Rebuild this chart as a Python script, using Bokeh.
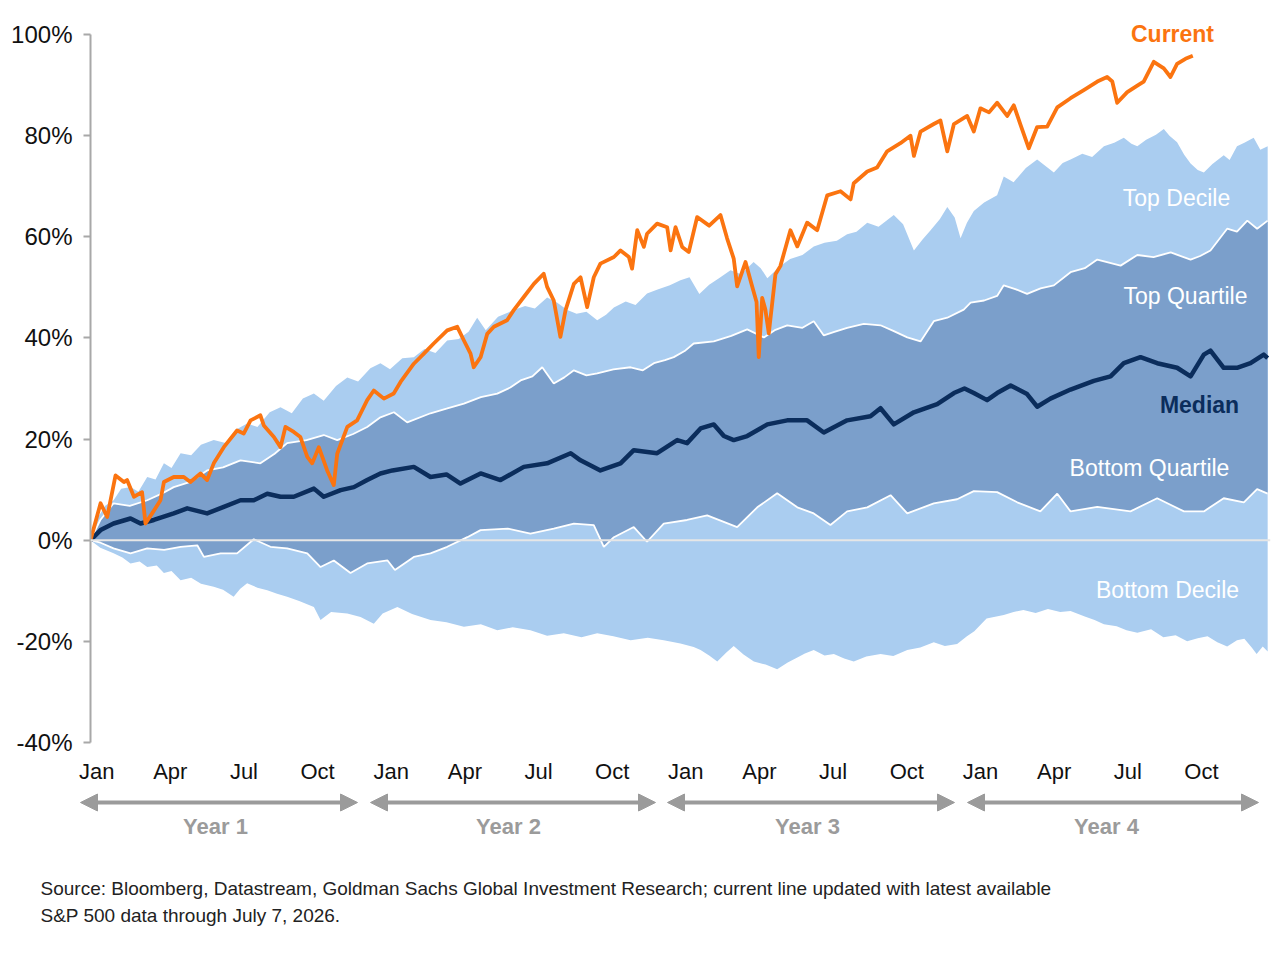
from bokeh.plotting import figure
from bokeh.models import Range1d, FixedTicker, Span, Arrow, NormalHead, Label
from bokeh.embed import file_html
from bokeh.resources import INLINE
from bokeh.core.properties import value

# ---------------- data (x in months since start of Year 1, y in % return) ----------------
current_m = [0, 0.41, 0.68, 1.02, 1.36, 1.49, 1.77, 2.1, 2.24, 2.51, 2.85, 2.99, 3.39, 3.8, 4.07, 4.48, 4.75,
             5.02, 5.43, 5.97, 6.24, 6.52, 6.92, 7.06, 7.47, 7.74, 7.94, 8.28, 8.55, 8.83, 9.03, 9.3, 9.64,
             9.91, 10.05, 10.46, 10.86, 11.27, 11.54, 11.95, 12.35, 12.63, 13.17, 13.58, 13.98, 14.53, 14.94,
             15.21, 15.48, 15.61, 15.89, 16.16, 16.43, 16.97, 17.24, 17.65, 18.06, 18.46, 18.6, 18.87, 19.14,
             19.35, 19.69, 19.96, 20.23, 20.5, 20.77, 21.32, 21.59, 21.93, 22.06, 22.27, 22.54, 22.67, 23.08,
             23.49, 23.63, 23.83, 24.1, 24.37, 24.71, 25.2, 25.66, 25.93, 26.2, 26.34, 26.68, 26.95, 27.13,
             27.22, 27.36, 27.49, 27.63, 27.9, 28.1, 28.51, 28.79, 29.19, 29.6, 30.01, 30.55, 30.96, 31.09,
             31.64, 32.04, 32.45, 32.99, 33.4, 33.54, 33.81, 34.35, 34.62, 34.9, 35.17, 35.71, 35.98, 36.25,
             36.6, 36.93, 37.34, 37.61, 37.88, 38.22, 38.56, 38.97, 39.38, 39.92, 40.46, 41.01, 41.41, 41.62,
             41.82, 42.23, 42.64, 42.9, 43.31, 43.72, 43.99, 44.26, 44.6, 44.9]
current_v = [0, 7.3, 4.6, 12.8, 11.5, 11.9, 8.6, 9.5, 3.3, 5.3, 7.9, 11.5, 12.5, 12.5, 11.5, 13.2, 11.9,
             15.2, 18.4, 21.7, 21.1, 23.7, 24.7, 22.7, 20.4, 18.4, 22.4, 21.4, 20.4, 16.5, 15.2, 18.4, 13.8,
             10.9, 17.1, 22.4, 23.7, 27.7, 29.6, 28.0, 29.0, 31.3, 34.9, 36.9, 38.9, 41.5, 42.2,
             39.5, 36.9, 34.2, 36.2, 40.8, 42.2, 43.5, 45.5, 48.1, 50.7, 52.7, 50.1, 47.4, 40.2,
             45.5, 50.7, 52.0, 46.1, 52.0, 54.7, 56.0, 57.3, 56.0, 53.7, 61.3, 58.0, 60.6, 62.6,
             61.9, 57.3, 61.9, 58.0, 57.0, 63.9, 62.2, 64.3, 59.7, 55.7, 50.2, 55.0, 50.2, 47.1,
             36.2, 47.9, 45.6, 40.9, 52.6, 54.2, 61.3, 58.1, 62.8, 61.3, 68.2, 69.0, 67.4, 70.6,
             72.9, 73.7, 76.9, 78.5, 80.0, 76.0, 80.8, 82.3, 83.0, 76.9, 82.3, 83.9, 80.8, 85.4,
             84.6, 86.5, 83.9, 86.0, 82.2, 77.5, 81.7, 81.8, 85.6, 87.4, 89.0, 90.7, 91.6, 90.7,
             86.5, 88.6, 89.9, 90.7, 94.6, 93.3, 91.6, 94.2, 95.2, 95.8]

top_decile_m = [0, 0.3, 0.6, 0.94, 1.25, 1.63, 1.95, 2.31, 2.65, 2.99, 3.3, 3.67, 4.1, 4.5, 5.02, 5.5, 5.9,
                6.38, 6.8, 7.3, 7.74, 8.2, 8.65, 9.1, 9.5, 10.0, 10.46, 10.9, 11.4, 11.81, 12.2, 12.7, 13.17,
                13.6, 14.05, 14.53, 15.0, 15.4, 15.75, 16.1, 16.6, 17.24, 17.7, 18.1, 18.6, 19.0, 19.42, 19.8,
                20.2, 20.64, 21.0, 21.32, 21.8, 22.2, 22.67, 23.1, 23.6, 24.03, 24.4, 24.8, 25.2, 25.6, 26.07,
                26.5, 27.01, 27.3, 27.57, 28.1, 28.5, 29.0, 29.46, 29.9, 30.4, 30.82, 31.2, 31.64, 32.1, 32.72,
                33.1, 33.54, 33.9, 34.22, 34.6, 34.9, 35.2, 35.44, 35.7, 35.98, 36.4, 36.93, 37.2, 37.6, 38.1,
                38.56, 38.9, 39.24, 39.6, 39.92, 40.4, 40.8, 41.28, 41.7, 42.09, 42.4, 42.64, 43.0, 43.4, 43.72,
                43.95, 44.26, 44.55, 44.81, 45.1, 45.35, 45.7, 46.16, 46.4, 46.7, 47.0, 47.38, 47.65, 47.95]
top_decile_v = [0, 4.5, 6.8, 7.9, 10.2, 10.5, 9.6, 12.5, 12.0, 15.2, 14.3, 17.2, 16.8, 18.9, 19.8, 19.2, 21.8,
                23.1, 22.4, 25.3, 26.3, 25.1, 28.0, 29.0, 27.6, 30.5, 32.2, 31.4, 34.0, 35.0, 33.8, 36.0, 36.2,
                37.8, 37.0, 39.5, 39.8, 41.2, 44.0, 41.5, 44.2, 45.5, 46.3, 45.8, 48.0, 47.0, 45.5, 44.8,
                45.2, 43.5, 44.6, 46.0, 47.2, 46.5, 48.8, 49.6, 50.4, 51.4, 52.0, 48.7, 50.5, 51.8, 53.4,
                52.6, 55.0, 53.8, 51.8, 54.2, 55.6, 56.4, 58.1, 58.8, 59.2, 60.5, 61.0, 62.8, 62.0, 64.3,
                62.5, 57.3, 59.5, 61.3, 63.5, 65.9, 63.8, 59.7, 62.8, 65.1, 66.8, 68.2, 71.9, 70.8, 73.6,
                75.3, 74.0, 72.7, 74.6, 75.3, 76.4, 75.8, 77.9, 78.6, 79.6, 78.4, 77.9, 79.2, 80.2, 81.3,
                80.0, 78.7, 76.2, 74.5, 73.2, 72.7, 74.4, 76.1, 75.2, 77.9, 78.6, 79.6, 77.2, 77.9]

top_quartile_m = [0, 0.4, 0.94, 1.6, 2.31, 2.9, 3.39, 4.1, 4.75, 5.4, 6.11, 6.92, 7.5, 8.01, 8.8, 9.5, 10.05,
                  10.7, 11.27, 11.81, 12.36, 12.9, 13.85, 14.5, 15.21, 15.9, 16.57, 17.1, 17.52, 18.0, 18.4,
                  18.87, 19.3, 19.69, 20.2, 20.64, 21.3, 22.0, 22.5, 22.95, 23.4, 23.76, 24.2, 24.57, 25.39,
                  26.1, 26.75, 27.43, 27.9, 28.38, 29.0, 29.46, 29.87, 30.3, 30.82, 31.5, 32.18, 32.7, 33.27,
                  33.81, 34.35, 34.9, 35.57, 35.85, 36.4, 36.93, 37.2, 37.7, 38.15, 38.7, 39.24, 39.92, 40.5,
                  41.01, 41.96, 42.64, 43.3, 44.0, 44.81, 45.2, 45.62, 46.3, 46.7, 47.12, 47.52, 47.95]
top_quartile_v = [0, 4.0, 7.3, 6.8, 7.9, 9.2, 10.5, 11.6, 13.8, 14.4, 15.8, 15.2, 17.1, 19.2, 19.8, 20.8, 19.8,
                  21.0, 22.4, 24.3, 25.3, 23.3, 25.1, 26.0, 27.0, 28.3, 29.0, 30.2, 31.6, 32.4, 34.2,
                  31.0, 32.2, 33.6, 32.6, 33.0, 33.8, 34.2, 33.6, 35.0, 35.6, 36.2, 37.4, 38.9, 39.3,
                  40.4, 41.7, 40.1, 41.6, 42.5, 42.0, 43.3, 40.5, 41.2, 42.0, 42.8, 42.5, 41.4, 40.1,
                  39.3, 43.3, 44.0, 45.6, 47.0, 47.4, 48.3, 50.4, 49.6, 48.7, 49.8, 50.4, 53.0, 53.8,
                  55.5, 54.3, 56.4, 56.0, 56.9, 55.5, 56.2, 57.3, 61.6, 61.0, 63.2, 61.6, 63.2]

median_m = [0, 0.41, 0.94, 1.63, 2.04, 2.58, 3.39, 3.94, 4.75, 5.43, 6.11, 6.65, 7.2, 7.74, 8.28, 9.1, 9.5,
            10.19, 10.73, 11.27, 11.81, 12.3, 13.17, 13.85, 14.5, 15.07, 15.89, 16.7, 17.65, 18.6, 19.56,
            19.96, 20.77, 21.59, 22.13, 23.08, 23.9, 24.3, 24.85, 25.39, 25.8, 26.2, 26.75, 27.57, 28.38,
            29.19, 29.87, 30.82, 31.77, 32.18, 32.72, 33.54, 34.49, 35.17, 35.6, 35.98, 36.52, 36.93, 37.48,
            38.15, 38.56, 39.1, 39.92, 40.87, 41.55, 42.09, 42.77, 43.45, 44.26, 44.81, 45.35, 45.62, 46.16,
            46.7, 47.25, 47.79, 47.95]
median_v = [0, 2.0, 3.3, 4.3, 3.3, 4.0, 5.3, 6.3, 5.3, 6.6, 7.9, 7.9, 9.2, 8.6, 8.6, 10.2, 8.6,
            9.9, 10.5, 11.9, 13.2, 13.8, 14.5, 12.5, 13.0, 11.2, 13.2, 11.9, 14.5, 15.2, 17.2,
            15.8, 13.8, 15.2, 17.8, 17.2, 19.8, 19.2, 22.1, 22.9, 20.6, 19.8, 20.6, 22.9, 23.7,
            23.7, 21.3, 23.7, 24.5, 26.1, 22.9, 25.3, 26.9, 29.1, 30.0, 29.1, 27.7, 29.1, 30.6,
            28.9, 26.4, 28.0, 29.8, 31.5, 32.4, 35.0, 36.2, 35.0, 34.1, 32.4, 36.7, 37.5, 34.1,
            34.1, 35.0, 36.7, 36.0]

bottom_quartile_m = [0, 0.41, 0.94, 1.63, 2.31, 3.0, 3.67, 4.35, 4.62, 5.3, 5.97, 6.65, 7.33, 8.01, 8.83, 9.37,
                     9.91, 10.59, 11.27, 12.1, 12.4, 13.17, 13.85, 14.53, 15.35, 15.89, 17.0, 17.92, 18.87,
                     19.69, 20.5, 20.91, 21.32, 22.13, 22.67, 23.35, 24.3, 25.12, 26.34, 27.16, 27.97, 28.79,
                     29.46, 30.14, 30.82, 31.64, 32.59, 33.27, 34.35, 35.3, 35.98, 36.93, 37.75, 38.69, 39.38,
                     39.92, 41.01, 42.36, 43.45, 44.54, 45.35, 46.16, 46.98, 47.52, 47.95]
bottom_quartile_v = [0, -0.5, -1.6, -2.6, -1.6, -1.9, -1.3, -1.0, -3.3, -2.6, -2.6, 0.2, -1.3, -1.6, -2.6, -5.3,
                     -4.0, -6.5, -4.6, -4.0, -5.9, -3.3, -2.6, -1.3, 0.6, 2.0, 2.3, 1.3, 2.3,
                     3.3, 3.0, -1.3, 0.6, 2.6, -0.3, 3.3, 4.0, 4.9, 2.6, 6.5, 9.3, 6.5,
                     5.3, 3.0, 5.7, 6.5, 8.9, 5.3, 7.3, 8.1, 9.7, 9.5, 7.5, 5.7, 9.2,
                     5.7, 6.6, 5.7, 8.3, 5.7, 5.7, 8.3, 7.5, 10.1, 9.2]

bottom_decile_m = [0, 0.4, 0.94, 1.3, 1.63, 2.0, 2.31, 2.7, 2.99, 3.3, 3.67, 4.1, 4.5, 5.02, 5.4, 5.83, 6.1,
                   6.38, 6.8, 7.2, 7.6, 8.01, 8.5, 9.1, 9.37, 9.8, 10.46, 11.0, 11.54, 11.9, 12.5, 13.1, 13.85,
                   14.5, 15.21, 15.9, 16.57, 17.2, 17.92, 18.6, 19.28, 20.0, 20.64, 21.3, 22.0, 22.7, 23.35,
                   24.03, 24.57, 24.85, 25.2, 25.53, 25.9, 26.2, 26.6, 27.02, 27.5, 27.97, 28.4, 28.79, 29.1,
                   29.46, 29.9, 30.28, 30.7, 31.09, 31.6, 32.18, 32.7, 33.27, 33.8, 34.35, 34.8, 35.3, 35.7,
                   36.0, 36.5, 37.2, 37.6, 38.0, 38.5, 39.0, 39.5, 39.92, 40.5, 40.9, 41.28, 41.8, 42.2, 42.64,
                   43.2, 43.7, 44.2, 44.67, 45.1, 45.5, 45.9, 46.3, 46.7, 47.0, 47.3, 47.5, 47.75, 47.95]
bottom_decile_v = [0, -1.5, -2.6, -3.4, -4.6, -4.2, -5.3, -5.0, -6.5, -6.1, -7.9, -7.4, -8.6, -9.2, -9.8, -11.2, -9.6,
                   -8.5, -9.4, -9.9, -10.6, -11.2, -12.0, -13.2, -15.8, -14.2, -14.5, -15.2, -16.5, -14.5, -13.2, -14.6, -15.8,
                   -16.2, -17.1, -16.6, -17.8, -17.2, -17.8, -18.9, -18.4, -19.2, -18.4, -19.0, -19.8, -19.3, -19.8,
                   -20.4, -21.1, -21.7, -22.8, -24.0, -22.2, -20.9, -22.6, -24.0, -24.6, -25.5, -24.2, -23.2, -22.4,
                   -21.7, -22.8, -22.5, -23.4, -24.0, -23.0, -22.5, -22.9, -21.7, -21.2, -20.2, -20.9, -20.5, -19.0,
                   -18.0, -15.5, -14.8, -14.2, -13.8, -14.4, -13.6, -14.2, -14.0, -15.1, -15.8, -16.6, -17.0, -17.8, -18.3,
                   -17.6, -19.2, -18.8, -20.0, -19.4, -19.0, -20.2, -21.0, -19.8, -19.5, -21.2, -22.5, -21.0, -22.0]

y_ticks = [-40, -20, 0, 20, 40, 60, 80, 100]
month_labels = ["Jan", "Apr", "Jul", "Oct"] * 4
year_labels = ["Year 1", "Year 2", "Year 3", "Year 4"]
source_lines = ["Source: Bloomberg, Datastream, Goldman Sachs Global Investment Research; current line updated with latest available",
                "S&P 500 data through July 7, 2026."]

# ---------------- layout constants (page pixels) ----------------
FONT = "Liberation Sans"
W = 1272
PX_MONTH = 24.55          # pixels per month
PX_PCT = 5.055            # pixels per percentage point
AXIS_PX = 90              # page x of the y axis (x = 0)
ZERO_PY = 539.5           # page y of 0 %
TOP_PY = 14               # page y of frame top
FRAME_RIGHT_PX = 1270
MAIN_H = 790              # height of the main figure
NOTE_H = 150              # height of the bottom strip

def mx(px):
    return (px - AXIS_PX) / PX_MONTH

def vy(py):
    return (ZERO_PY - py) / PX_PCT

LIGHT = "#aacdf0"
MID = "#7b9fcb"
NAVY = "#0b2d5c"
ORANGE = "#fb7410"
GREY = "#9b9b9b"

y_lo = min(y_ticks)
frame_bottom_px = ZERO_PY - y_lo * PX_PCT

p = figure(width=W, height=MAIN_H, output_backend="svg", toolbar_location=None,
           x_range=Range1d(0, mx(FRAME_RIGHT_PX)),
           y_range=Range1d(y_lo, vy(TOP_PY)),
           min_border_left=AXIS_PX, min_border_right=W - FRAME_RIGHT_PX,
           min_border_top=TOP_PY, min_border_bottom=int(round(MAIN_H - frame_bottom_px)))
p.outline_line_color = None
p.grid.visible = False
p.background_fill_color = "white"

# y axis
ya = p.yaxis[0]
ya.ticker = FixedTicker(ticks=y_ticks)
ya.bounds = (min(y_ticks), max(y_ticks))
ya.major_label_overrides = {t: f"{t}%" for t in y_ticks}
ya.axis_line_color = "#a8a8a8"
ya.axis_line_width = 2
ya.major_tick_line_color = "#a8a8a8"
ya.major_tick_line_width = 2
ya.major_tick_out = 7
ya.major_tick_in = 0
ya.minor_tick_line_color = None
ya.major_label_standoff = 11
ya.major_label_text_font = FONT
ya.major_label_text_font_size = "24px"
ya.major_label_text_color = "#111111"

# x axis: month labels only
month_pos = [3 * i + 0.25 for i in range(len(month_labels))]
xa = p.xaxis[0]
xa.ticker = FixedTicker(ticks=month_pos)
xa.major_label_overrides = {t: lab for t, lab in zip(month_pos, month_labels)}
xa.axis_line_color = None
xa.major_tick_line_color = None
xa.minor_tick_line_color = None
xa.major_label_standoff = 10
xa.major_label_text_font = FONT
xa.major_label_text_font_size = "22px"
xa.major_label_text_color = "#111111"

# bands
p.patch(top_decile_m + bottom_decile_m[::-1], top_decile_v + bottom_decile_v[::-1],
        fill_color=LIGHT, line_color=None)
p.patch(top_quartile_m + bottom_quartile_m[::-1], top_quartile_v + bottom_quartile_v[::-1],
        fill_color=MID, line_color=None)
p.line(top_quartile_m, top_quartile_v, line_color="white", line_width=1.8)
p.line(bottom_quartile_m, bottom_quartile_v, line_color="white", line_width=1.8)

p.add_layout(Span(location=0, dimension="width", line_color="#e6e6e6", line_width=2))

p.line(median_m, median_v, line_color=NAVY, line_width=4.5, line_join="round")
p.line(current_m, current_v, line_color=ORANGE, line_width=3.8, line_join="round")

# series labels
def series_label(txt, cx, cy, color, bold=False):
    p.add_layout(Label(x=mx(cx), y=vy(cy), text=txt, text_align="center", text_baseline="middle",
                       text_font=FONT, text_font_size="23px", text_color=color,
                       text_font_style="bold" if bold else "normal"))

series_label("Current", 1172, 33, ORANGE, True)
series_label("Top Decile", 1176, 197, "white")
series_label("Top Quartile", 1185, 295, "white")
series_label("Median", 1199, 404, NAVY, True)
series_label("Bottom Quartile", 1149, 467, "white")
series_label("Bottom Decile", 1167, 589, "white")

# ---------------- bottom strip: year arrows, year labels, source note ----------------
q = figure(width=W, height=NOTE_H, output_backend="svg", toolbar_location=None,
           x_range=Range1d(0, W), y_range=Range1d(MAIN_H + NOTE_H, MAIN_H),
           x_axis_location=None, y_axis_location=None, min_border=0)
q.outline_line_color = None
q.grid.visible = False

arrow_start_px = [80, 370, 667, 967]
arrow_end_px = [357, 655, 954, 1258]
year_center_px = [215, 508, 807, 1106]
for s, e in zip(arrow_start_px, arrow_end_px):
    q.add_layout(Arrow(x_start=s, y_start=802, x_end=e, y_end=802,
                       line_color=GREY, line_width=4,
                       start=NormalHead(size=17, fill_color=GREY, line_color=GREY, line_width=1),
                       end=NormalHead(size=17, fill_color=GREY, line_color=GREY, line_width=1)))
q.text(x=year_center_px, y=[826] * 4, text=year_labels, text_font=value(FONT), text_font_size="22px",
       text_font_style="bold", text_color=GREY, text_align="center", text_baseline="middle")
q.text(x=[40, 40], y=[888, 915], text=source_lines, text_font=value(FONT), text_font_size="19px",
       text_color="#222222", text_baseline="middle", text_align="left")

open("out.html", "w").write(file_html([p, q], INLINE))
